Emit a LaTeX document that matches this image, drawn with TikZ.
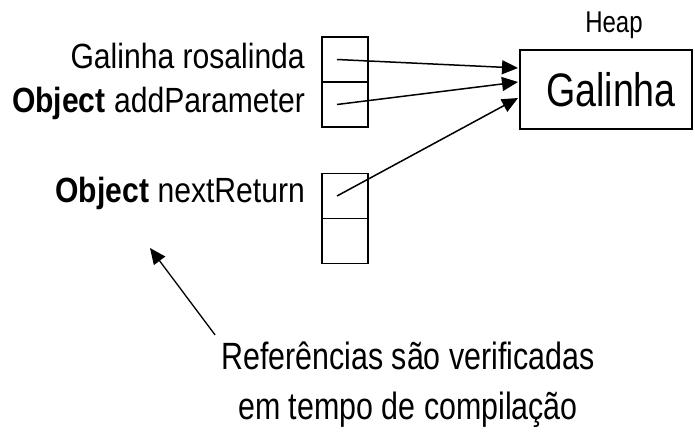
\documentclass[tikz,border=0pt]{standalone}
\usepackage{fontspec}
\setmainfont{Liberation Sans}[FakeStretch=0.8]
\newfontfamily\varfont{Liberation Sans}[FakeStretch=0.86]
\usetikzlibrary{arrows.meta,positioning,calc}
\tikzset{
  cell/.style={
    rectangle, draw=black, line width=1.5pt, outer sep=0pt, inner sep=0pt,
    minimum width=46pt, minimum height=45pt,
  },
  heapbox/.style={
    rectangle, draw=black, line width=1.5pt, outer sep=0pt,
    minimum width=172pt, minimum height=79pt,
    font=\fontsize{47}{50}\selectfont,
  },
  varname/.style={
    anchor=base east, inner sep=0pt, font=\varfont\fontsize{35}{38}\selectfont,
  },
  ref/.style={
    -{Triangle[length=16pt,width=14pt]}, line width=1.5pt,
  },
  note/.style={
    align=center, inner sep=0pt, font=\fontsize{38}{50}\selectfont,
  },
}

\begin{document}
\begin{tikzpicture}[x=1pt, y=-1pt]
\useasboundingbox (0,0) rectangle (695,436);

% stack frame
\node[cell] (c1) at (345,59.5) {};
\node[cell, below=0pt of c1] (c2) {};
\node[cell] (c3) at (345,196) {};
\node[cell, below=0pt of c3] (c4) {};

\node[varname] (v1) at (305,68) {Galinha rosalinda};
\node[varname] (v2) at (305,112) {\textbf{Object} addParameter};
\node[varname] (v3) at (305,202) {\textbf{Object} nextReturn};

% heap
\node[heapbox] (obj) at (606,89.5) {\hspace*{10pt}Galinha};
\node[inner sep=0pt, font=\fontsize{30}{32}\selectfont,
      above=11pt of obj, xshift=8pt] (heapname) {Heap};

\draw[ref] ([xshift=-8pt]c1.center) -- ([xshift=-2pt,yshift=21.5pt]obj.west);
\draw[ref] ([xshift=-8pt]c2.center) -- ([xshift=-2pt,yshift=7.5pt]obj.west);
\draw[ref] ([xshift=-8pt]c3.center) -- ([xshift=-2pt,yshift=-8.5pt]obj.west);

% compile-time note
\node[note] (remark) at (408,385) {Referências são verificadas\\em tempo de compilação};
\coordinate (target) at (150,248);
\draw[ref, line width=1.3pt] ([xshift=-6pt,yshift=7pt]remark.north west) -- (target);

\end{tikzpicture}
\end{document}
